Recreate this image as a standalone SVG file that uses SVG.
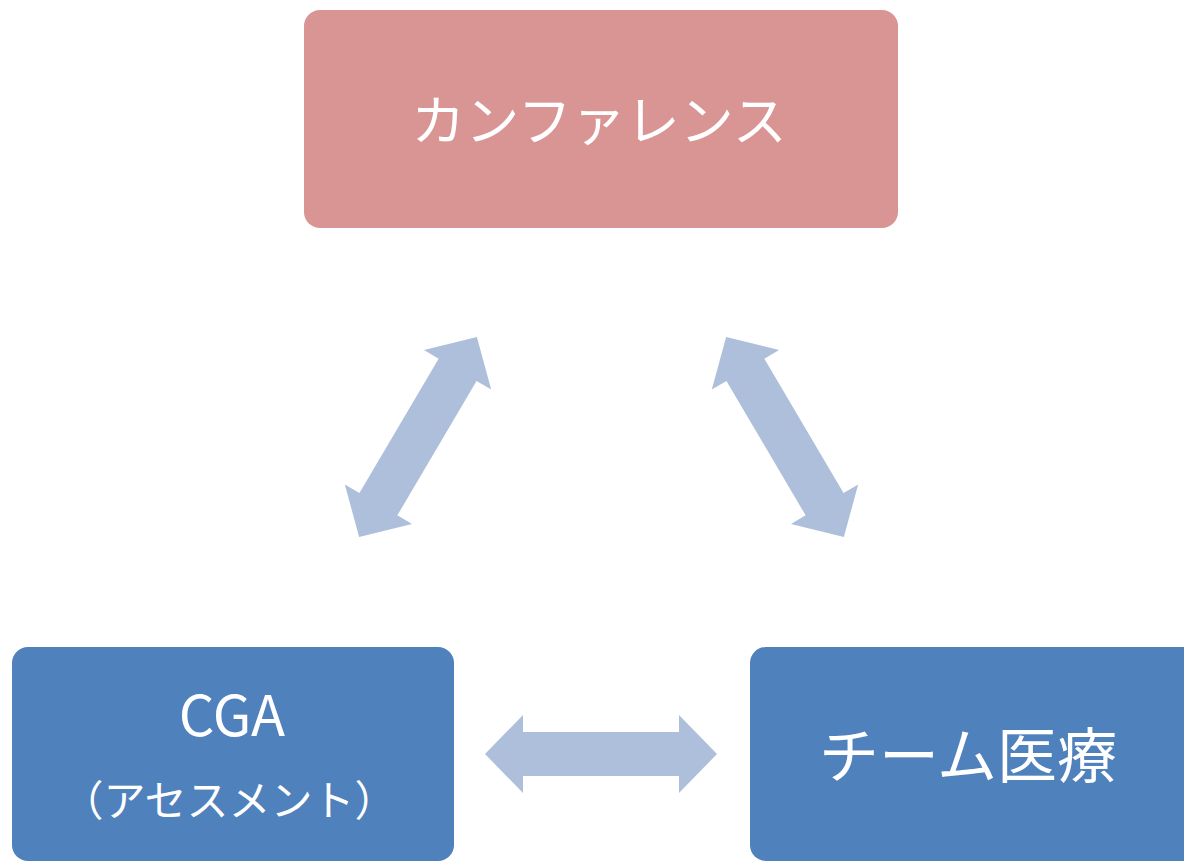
<svg xmlns="http://www.w3.org/2000/svg" width="1184" height="862" viewBox="0 0 1184 862">
<style>
.lbl{font-family:"Noto Sans CJK JP","Noto Sans",sans-serif;fill:#ffffff;text-anchor:middle;dominant-baseline:central}
.pink{fill:#D99594}
.blue{fill:#4F81BD}
.arr{fill:#AEBFDB}
</style>
<defs>
<path id="dbl" d="M -116 0 L -78 -39 L -78 -22 L 78 -22 L 78 -39 L 116 0 L 78 39 L 78 22 L -78 22 L -78 39 Z"/>
</defs>
<rect width="1184" height="862" fill="#ffffff"/>
<g id="conference">
<rect class="pink" x="304" y="10" width="594" height="218" rx="16"/>
<text class="lbl" x="599" y="117" font-size="54">カンファレンス</text>
</g>
<g id="cga">
<rect class="blue" x="12" y="647" width="442" height="214" rx="16"/>
<text class="lbl" x="232" y="711" font-size="56">CGA</text>
<text class="lbl" x="229" y="797" font-size="42">（アセスメント）</text>
</g>
<g id="team">
<rect class="blue" x="750" y="647" width="460" height="214" rx="16"/>
<text class="lbl" x="968" y="751" font-size="60">チーム医療</text>
</g>
<g id="connectors">
<use href="#dbl" class="arr" transform="translate(418,437) rotate(-59.5)"/>
<use href="#dbl" class="arr" transform="translate(785,437) rotate(59.5)"/>
<use href="#dbl" class="arr" transform="translate(601,754)"/>
</g>
</svg>
